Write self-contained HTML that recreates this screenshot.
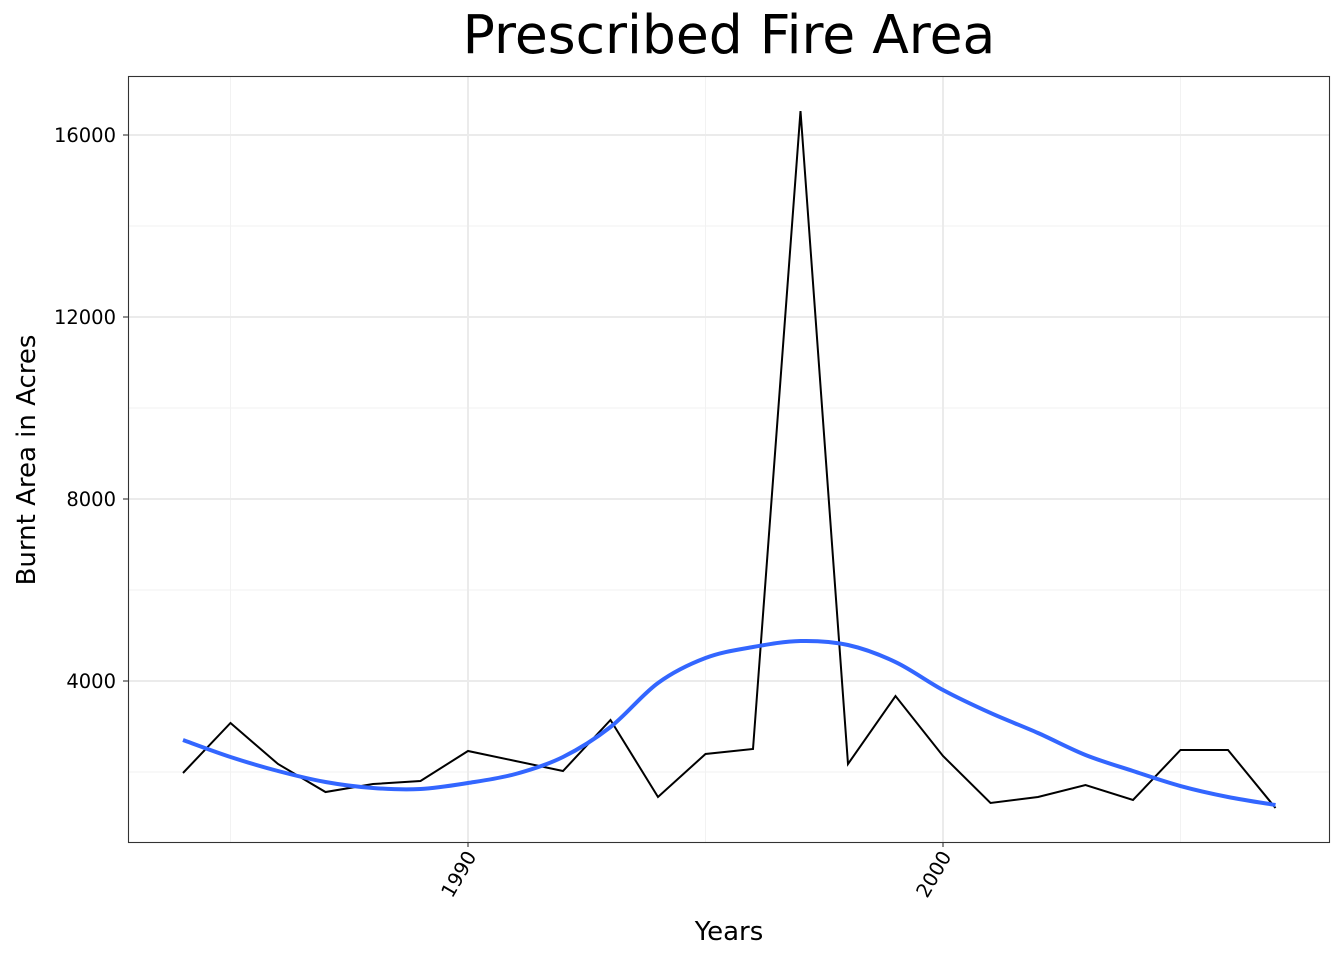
<!DOCTYPE html>
<html><head><meta charset="utf-8"><style>
body{margin:0;background:#fff;font-family:"DejaVu Sans","Liberation Sans",sans-serif;}
</style></head><body>
<svg id="chart" width="1344" height="960" xmlns="http://www.w3.org/2000/svg">
<text x="729" y="53" font-size="53.5" text-anchor="middle" fill="#000">Prescribed Fire Area</text>
<g id="grid"></g>
<g id="marks"></g>
<rect x="128.5" y="76.5" width="1201" height="766" fill="none" stroke="#333" stroke-width="1.1"/>
<g id="axes" font-size="19.5" fill="#000"></g>
<text x="729" y="940" font-size="26" text-anchor="middle">Years</text>
<text transform="translate(35,460) rotate(-90)" font-size="26" text-anchor="middle">Burnt Area in Acres</text>
</svg>
<script>
const years=[1984,1985,1986,1987,1988,1989,1990,1991,1992,1993,1994,1995,1996,1997,1998,1999,2000,2001,2002,2003,2004,2005,2006,2007];
const acres=[1978,3077,2176,1560,1736,1802,2462,2242,2022,3143,1451,2396,2505,16527,2176,3670,2352,1319,1451,1714,1385,2484,2484,1209];
const smooth=[2703,2330,2022,1780,1648,1626,1758,1956,2330,2989,3956,4505,4747,4879,4791,4417,3802,3297,2857,2374,2022,1692,1451,1275];
const xTicks=[1990,2000];
const xMinor=[1985,1995,2005];
const yTicks=[4000,8000,12000,16000];
const yMinor=[2000,6000,10000,14000];
const NS="http://www.w3.org/2000/svg";
const X=v=>468+(v-1990)*47.5;
const Y=v=>863-v*182/4000;
function el(t,a,p){const e=document.createElementNS(NS,t);for(const k in a)e.setAttribute(k,a[k]);p.appendChild(e);return e;}
const grid=document.getElementById('grid'),marks=document.getElementById('marks'),axes=document.getElementById('axes');
yMinor.forEach(v=>{const l=el('line',{x1:129,x2:1330,y1:Y(v),y2:Y(v),stroke:'#f2f2f2','stroke-width':1},grid);

});
xMinor.forEach(v=>{const l=el('line',{x1:X(v),x2:X(v),y1:77,y2:842,stroke:'#f2f2f2','stroke-width':1},grid);

});
yTicks.forEach(v=>{const l=el('line',{x1:129,x2:1330,y1:Y(v),y2:Y(v),stroke:'#ebebeb','stroke-width':2},grid);


const t=el('line',{x1:123,x2:128,y1:Y(v),y2:Y(v),stroke:'#333','stroke-width':1.1},axes);


const tx=el('text',{x:116,y:Y(v)+7,'text-anchor':'end'},axes);tx.textContent=v;

});
xTicks.forEach(v=>{const l=el('line',{x1:X(v),x2:X(v),y1:77,y2:842,stroke:'#ebebeb','stroke-width':2},grid);


const t=el('line',{x1:X(v),x2:X(v),y1:842,y2:847,stroke:'#333','stroke-width':1.1},axes);


const tx=el('text',{transform:`translate(${X(v)+9},${856}) rotate(-60)`,'text-anchor':'end'},axes);tx.textContent=v;

});
const raw=el('polyline',{points:years.map((y,i)=>X(y)+','+Y(acres[i])).join(' '),fill:'none',stroke:'#000','stroke-width':2},marks);


const P=years.map((y,i)=>[X(y),Y(smooth[i])]);
let d='M'+P[0][0]+','+P[0][1];
for(let i=0;i<P.length-1;i++){const p0=P[Math.max(0,i-1)],p1=P[i],p2=P[i+1],p3=P[Math.min(P.length-1,i+2)];
d+=` C${p1[0]+(p2[0]-p0[0])/6},${p1[1]+(p2[1]-p0[1])/6} ${p2[0]-(p3[0]-p1[0])/6},${p2[1]-(p3[1]-p1[1])/6} ${p2[0]},${p2[1]}`;}
const sm=el('path',{d:d,fill:'none',stroke:'#3366ff','stroke-width':4},marks);


</script>
</body></html>
